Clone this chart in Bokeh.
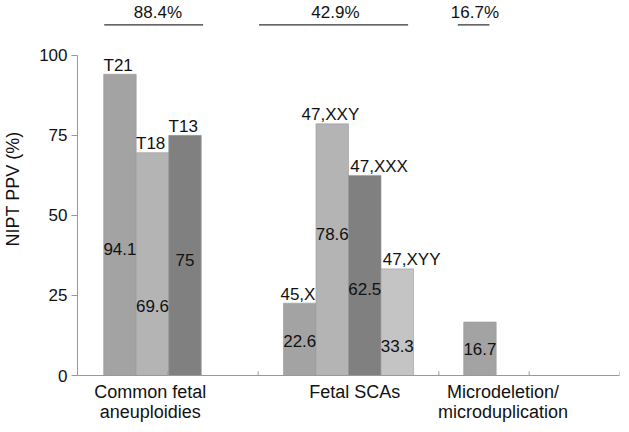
from bokeh.plotting import figure
from bokeh.models import ColumnDataSource, FixedTicker, Range1d
from bokeh.core.properties import value
from bokeh.embed import file_html
from bokeh.resources import INLINE

# ---------------- data ----------------
groups = ["Common fetal\naneuploidies", "Fetal SCAs", "Microdeletion/\nmicroduplication"]
group_ppv = ["88.4%", "42.9%", "16.7%"]
bar_names = [["T21", "T18", "T13"], ["45,X", "47,XXY", "47,XXX", "47,XYY"], [""]]
bar_ppv = [[94.1, 69.6, 75], [22.6, 78.6, 62.5, 33.3], [16.7]]
y_ticks = [0, 25, 50, 75, 100]
x_ticks = [1, 2, 3, 4, 5, 6]

# ---------------- layout / style ----------------
FONT = "Liberation Sans"
group_center = [0.83, 3.0, 4.455]
bar_w = 0.36
bar_colors = [["#a3a3a3", "#b4b4b4", "#808080"],
              ["#a3a3a3", "#b4b4b4", "#808080", "#c4c4c4"],
              ["#a3a3a3"]]
name_align = [["center", "center", "center"],
              ["center", "center", "left", "left"],
              ["center"]]
value_label_y = [[39.4, 21.7, 36.0], [10.9, 44.1, 27.0, 9.3], [8.4]]
cat_label_x = [0.806, 3.07, 4.71]
bracket_x0 = [0.296, 2.01, 4.21]
bracket_x1 = [1.39, 3.66, 4.56]
bracket_text_x = [0.89, 2.855, 4.40]
Y_TOP = 116.5

p = figure(width=621, height=424, output_backend="svg", toolbar_location=None,
           x_range=Range1d(0, 6), y_range=Range1d(0, Y_TOP),
           min_border_left=72, min_border_right=2, min_border_top=2, min_border_bottom=47)
p.outline_line_color = None
p.grid.grid_line_color = None
p.background_fill_color = "white"

bx, btop, bcol, bname, balign, bnx, bval, bvy = [], [], [], [], [], [], [], []
for g, c in enumerate(group_center):
    n = len(bar_ppv[g])
    for i, v in enumerate(bar_ppv[g]):
        x = c + (i - (n - 1) / 2) * bar_w
        bx.append(x)
        btop.append(v)
        bcol.append(bar_colors[g][i])
        bname.append(bar_names[g][i])
        a = name_align[g][i]
        balign.append(a)
        bnx.append(x - bar_w / 2 + 0.02 if a == "left" else x - 0.02)
        bval.append(f"{v:g}")
        bvy.append(value_label_y[g][i])

src = ColumnDataSource(dict(x=bx, top=btop, color=bcol, name=bname, align=balign,
                            nx=bnx, ny=[t + 2.8 for t in btop], val=bval, vy=bvy))

p.vbar(x="x", top="top", bottom=0, width=bar_w, fill_color="color",
       line_color="#999999", line_width=0.6, source=src)

p.text(x="nx", y="ny", text="name", text_align="align", text_baseline="middle",
       text_font=value(FONT), text_font_size="17px", text_color="#111111", source=src)
p.text(x="x", y="vy", text="val", text_align="center", text_baseline="middle",
       text_font=value(FONT), text_font_size="17px", text_color="#111111", source=src)

# group brackets
p.segment(x0=bracket_x0, y0=[109.5] * 3, x1=bracket_x1, y1=[109.5] * 3,
          line_color="#333333", line_width=1.3)
p.text(x=bracket_text_x, y=[113.3] * 3, text=group_ppv, text_align="center",
       text_baseline="middle", text_font=value(FONT), text_font_size="17px",
       text_color="#111111")

# x-axis tick marks (inside, above the axis line)
p.segment(x0=x_ticks, y0=[0] * len(x_ticks), x1=x_ticks, y1=[1.3] * len(x_ticks),
          line_color="#999999", line_width=1)

# axes
ya = p.yaxis[0]
ya.ticker = FixedTicker(ticks=y_ticks)
ya.bounds = (0, 100)
ya.axis_line_color = "#999999"
ya.major_tick_line_color = "#999999"
ya.major_tick_out = 6
ya.major_tick_in = 0
ya.minor_tick_line_color = None
ya.major_label_text_font = FONT
ya.major_label_text_font_size = "17px"
ya.major_label_text_color = "#111111"
ya.major_label_standoff = 4
ya.axis_label = "NIPT PPV (%)"
ya.axis_label_text_font = FONT
ya.axis_label_text_font_size = "18px"
ya.axis_label_text_font_style = "normal"
ya.axis_label_text_color = "#111111"
ya.axis_label_standoff = 13

xa = p.xaxis[0]
xa.ticker = FixedTicker(ticks=cat_label_x)
xa.major_label_overrides = {cx: name for cx, name in zip(cat_label_x, groups)}
xa.axis_line_color = "#999999"
xa.major_tick_line_color = None
xa.major_tick_in = 0
xa.major_tick_out = 0
xa.minor_tick_line_color = None
xa.major_label_text_font = FONT
xa.major_label_text_font_size = "18px"
xa.major_label_text_color = "#111111"
xa.major_label_text_line_height = 1.02
xa.major_label_standoff = 6

open("out.html", "w").write(file_html(p, INLINE))
